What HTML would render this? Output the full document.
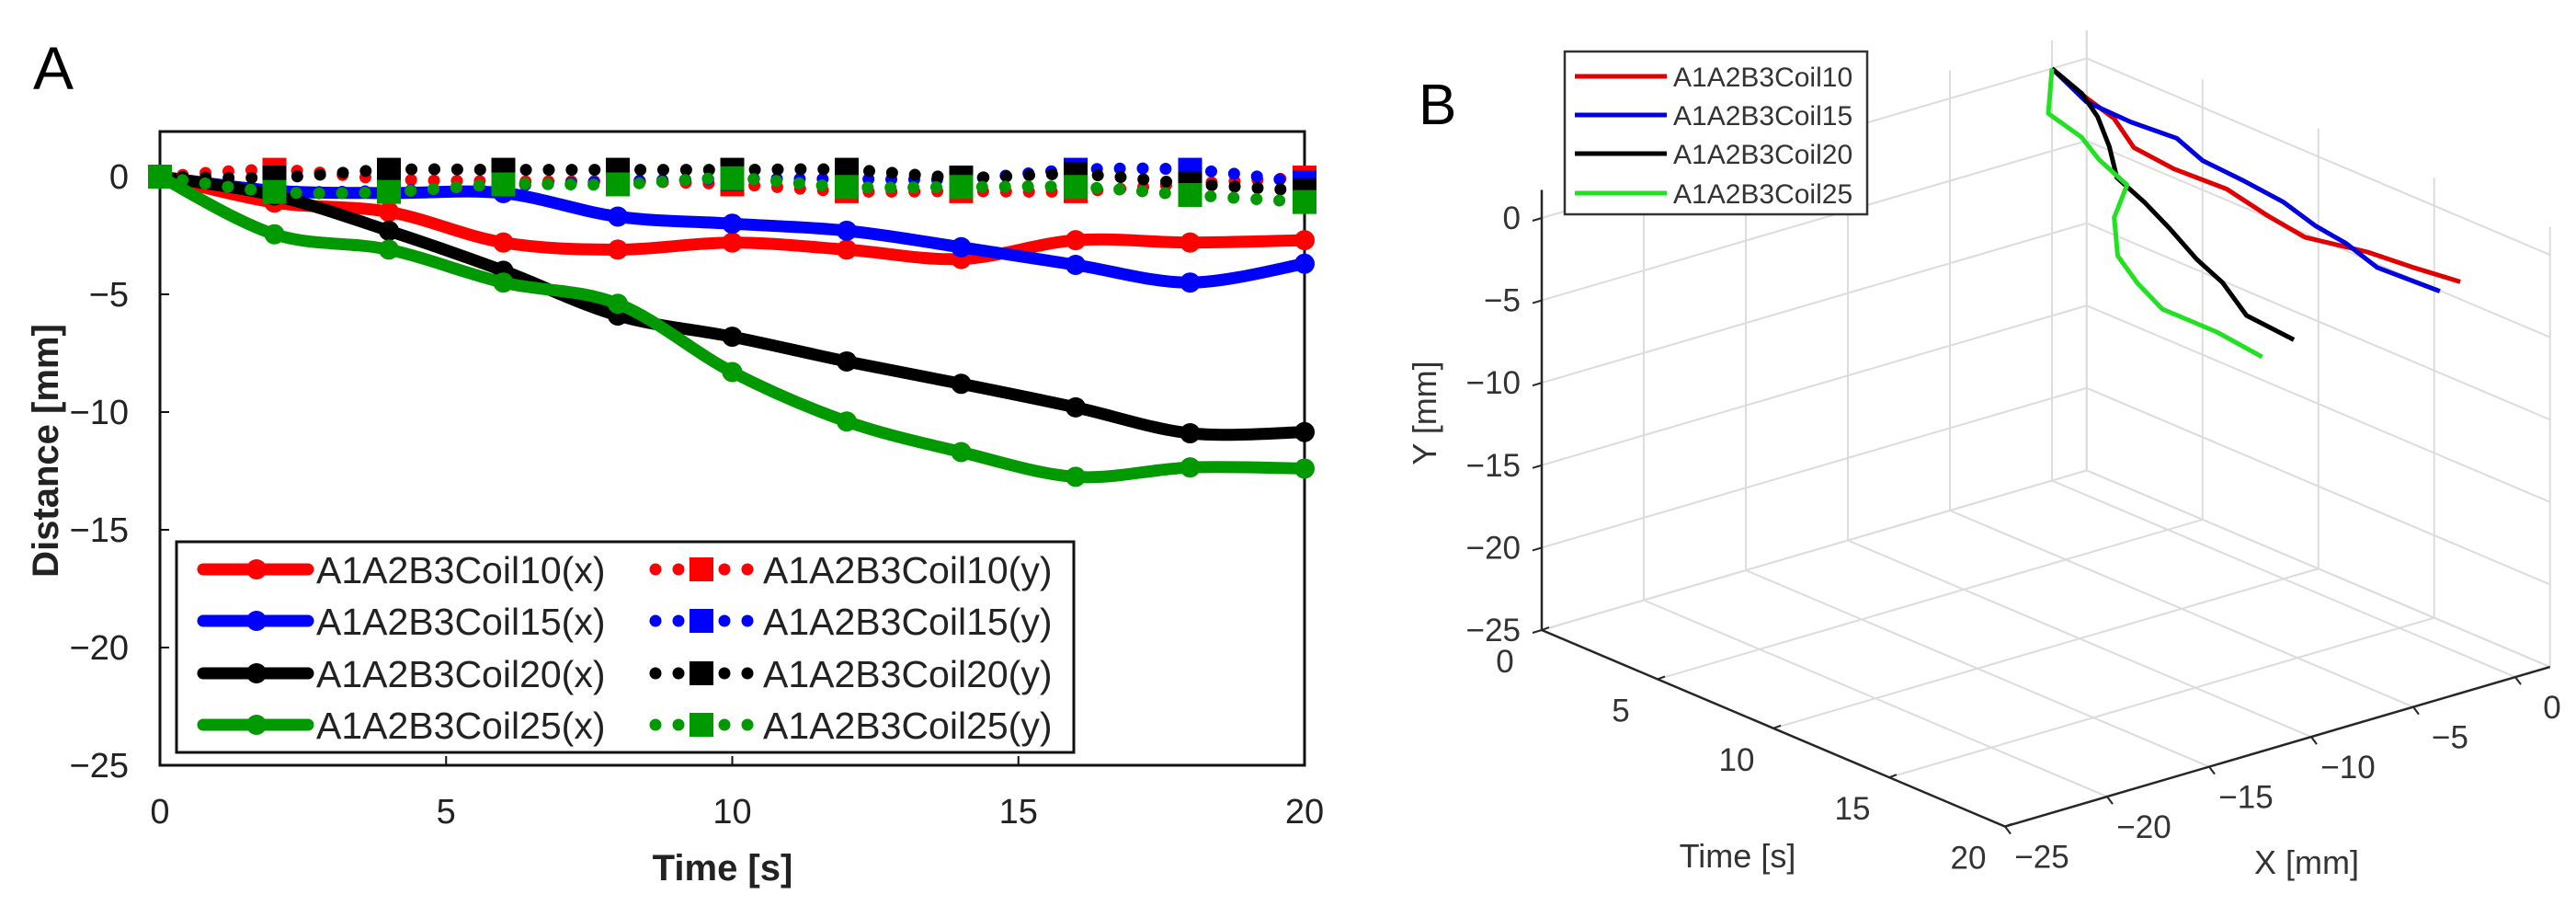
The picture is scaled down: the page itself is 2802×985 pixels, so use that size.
<!DOCTYPE html>
<html><head><meta charset="utf-8"><style>
html,body{margin:0;padding:0;background:#fff;}
svg{display:block;font-family:"Liberation Sans",Arial,sans-serif;}
</style></head><body>
<svg id="fig" width="2802" height="985" viewBox="0 0 2802 985" xmlns="http://www.w3.org/2000/svg">
<rect x="0" y="0" width="2802" height="985" fill="#fff"/>
<g id="panelA"></g>
<g id="panelB"></g>
</svg>
<script>
// ---------- data ----------
const times = [0,2,4,6,8,10,12,14,16,18,20];
const seriesNames = ["A1A2B3Coil10","A1A2B3Coil15","A1A2B3Coil20","A1A2B3Coil25"];
const coil10X = [0,-1.1,-1.5,-2.8,-3.1,-2.8,-3.1,-3.5,-2.7,-2.8,-2.7];
const coil15X = [0,-0.6,-0.7,-0.7,-1.7,-2.0,-2.3,-3.0,-3.75,-4.5,-3.7];
const coil20X = [0,-0.8,-2.3,-4.0,-5.9,-6.8,-7.85,-8.8,-9.8,-10.9,-10.85];
const coil25X = [0,-2.45,-3.1,-4.5,-5.4,-8.3,-10.4,-11.7,-12.75,-12.35,-12.4];
const coil10Y = [0,0.29,-0.1,-0.2,-0.2,-0.33,-0.62,-0.62,-0.62,-0.3,-0.04];
const coil15Y = [0,-0.6,-0.6,-0.4,-0.2,-0.1,-0.1,-0.1,0.29,0.29,-0.25];
const coil20Y = [0,-0.04,0.29,0.29,0.29,0.29,0.29,-0.04,0.1,-0.3,-0.6];
const coil25Y = [0,-0.65,-0.65,-0.33,-0.33,-0.07,-0.44,-0.44,-0.44,-0.78,-1.08];
const xTicksA = [0,5,10,15,20];
const yTicksA = [0,-5,-10,-15,-20,-25];
const tTicksB = [0,5,10,15,20];
const xTicksB = [0,-5,-10,-15,-20,-25];
const yTicksB = [0,-5,-10,-15,-20,-25];

const NS="http://www.w3.org/2000/svg";
function mk(parent,tag,attrs,text){const e=document.createElementNS(NS,tag);for(const k in attrs)e.setAttribute(k,attrs[k]);if(text!==undefined)e.textContent=text;parent.appendChild(e);return e;}
function smooth(pts){
  let d="M"+pts[0][0]+","+pts[0][1];
  for(let i=0;i<pts.length-1;i++){
    const p0=pts[Math.max(i-1,0)],p1=pts[i],p2=pts[i+1],p3=pts[Math.min(i+2,pts.length-1)];
    const c1=[p1[0]+(p2[0]-p0[0])/6,p1[1]+(p2[1]-p0[1])/6];
    const c2=[p2[0]-(p3[0]-p1[0])/6,p2[1]-(p3[1]-p1[1])/6];
    d+=" C"+c1[0].toFixed(1)+","+c1[1].toFixed(1)+" "+c2[0].toFixed(1)+","+c2[1].toFixed(1)+" "+p2[0].toFixed(1)+","+p2[1].toFixed(1);
  }
  return d;
}
const txtCol="#222";

// ---------- Panel A ----------
(function(){
  const g=document.getElementById("panelA");
  const L=174,R=1419,T=143,B=832;
  const xS=t=>L+(t-0)*(R-L)/20;
  const yS=v=>192+(0-v)*25.6;
  const colors=["#ff0000","#0000ff","#000000","#009a00"];
  const xs=[coil10X,coil15X,coil20X,coil25X];
  const ys=[coil10Y,coil15Y,coil20Y,coil25Y];
  let e=mk(g,"text",{x:36,y:97,"font-size":66,fill:"#000"},"A");
  
  
  e=mk(g,"rect",{x:L,y:T,width:R-L,height:B-T,fill:"none",stroke:"#111","stroke-width":3});
  
  
  xTicksA.forEach(t=>{
    const x=xS(t);
    mk(g,"line",{x1:x,y1:B,x2:x,y2:B-10,stroke:"#111","stroke-width":2});
    e=mk(g,"text",{x:x,y:895,"font-size":38,"text-anchor":"middle",fill:txtCol},String(t));
    
    
  });
  yTicksA.forEach(v=>{
    const y=yS(v);
    mk(g,"line",{x1:L,y1:y,x2:L+10,y2:y,stroke:"#111","stroke-width":2});
    e=mk(g,"text",{x:140,y:y+13,"font-size":38,"text-anchor":"end",fill:txtCol},v<0?"\u2212"+(-v):String(v));
    
    
  });
  e=mk(g,"text",{x:786,y:957,"font-size":40,"font-weight":"bold","text-anchor":"middle",fill:txtCol},"Time [s]");
  
  
  e=mk(g,"text",{x:0,y:0,"font-size":40,"font-weight":"bold","text-anchor":"middle",fill:txtCol,transform:"translate(63,490) rotate(-90)"},"Distance [mm]");
  
  
  // solid x series
  xs.forEach((arr,i)=>{
    const pts=times.map((t,j)=>[xS(t),yS(arr[j])]);
    e=mk(g,"path",{d:smooth(pts),fill:"none",stroke:colors[i],"stroke-width":13,"stroke-linejoin":"round","stroke-linecap":"round"});
    
    
    pts.forEach(p=>{
      e=mk(g,"circle",{cx:p[0],cy:p[1],r:11,fill:colors[i]});
      
      
    });
  });
  // dotted y series
  ys.forEach((arr,i)=>{
    const pts=times.map((t,j)=>[xS(t),yS(arr[j])]);
    e=mk(g,"path",{d:smooth(pts),fill:"none",stroke:colors[i],"stroke-width":13,"stroke-linecap":"round","stroke-dasharray":"0 24.9"});
    
    
    pts.forEach(p=>{
      e=mk(g,"rect",{x:p[0]-13,y:p[1]-13,width:26,height:26,fill:colors[i]});
      
      
    });
  });
  // legend
  const lg=mk(g,"g",{});
  
  
  mk(lg,"rect",{x:192,y:589,width:976,height:229,fill:"#fff",stroke:"#111","stroke-width":3});
  const rows=[619,675,732,788];
  seriesNames.forEach((n,i)=>{
    const y=rows[i];
    const en=mk(lg,"g",{});
    
    
    mk(en,"line",{x1:221,y1:y,x2:335,y2:y,stroke:colors[i],"stroke-width":13,"stroke-linecap":"round"});
    mk(en,"circle",{cx:279,cy:y,r:11,fill:colors[i]});
    mk(en,"text",{x:344,y:y+15,"font-size":41,fill:txtCol},n+"(x)");
    const en2=mk(lg,"g",{});
    
    
    mk(en2,"line",{x1:713,y1:y,x2:815,y2:y,stroke:colors[i],"stroke-width":13,"stroke-linecap":"round","stroke-dasharray":"0 25"});
    mk(en2,"rect",{x:750,y:y-13,width:26,height:26,fill:colors[i]});
    mk(en2,"text",{x:830,y:y+15,"font-size":41,fill:txtCol},n+"(y)");
  });
})();

// ---------- Panel B ----------
(function(){
  const g=document.getElementById("panelB");
  const A0=[1677,685];
  const tv=[25.2,10.68], xv=[22.2,-6.5], yv=[0,-17.92];
  const XMAX=1.7, YMAX=1.7;
  const P=(t,X,Y)=>[A0[0]+tv[0]*t+xv[0]*(X+25)+yv[0]*(Y+25), A0[1]+tv[1]*t+xv[1]*(X+25)+yv[1]*(Y+25)];
  const colors=["#e00000","#0000e0","#000000","#22e022"];
  const xs=[coil10X,coil15X,coil20X,coil25X];
  const ys=[coil10Y,coil15Y,coil20Y,coil25Y];
  const grid="#dcdcdc";
  function ln(p,q,c,w,name){const e=mk(g,"line",{x1:p[0],y1:p[1],x2:q[0],y2:q[1],stroke:c,"stroke-width":w});return e;}
  // back wall t=0
  const xg=[-25,-20,-15,-10,-5,0,XMAX];
  xg.forEach(X=>ln(P(0,X,-25),P(0,X,YMAX),grid,2,'grid-line'));
  yTicksB.forEach(Y=>ln(P(0,-25,Y),P(0,XMAX,Y),grid,2,'grid-line'));
  // side wall X=XMAX
  tTicksB.forEach(t=>ln(P(t,XMAX,-25),P(t,XMAX,YMAX),grid,2,'grid-line'));
  yTicksB.forEach(Y=>ln(P(0,XMAX,Y),P(20,XMAX,Y),grid,2,'grid-line'));
  // floor
  xg.forEach(X=>ln(P(0,X,-25),P(20,X,-25),grid,2,'grid-line'));
  tTicksB.forEach(t=>ln(P(t,-25,-25),P(t,XMAX,-25),grid,2,'grid-line'));
  // axes
  const ax="#262626";
  ln(P(0,-25,-25),P(0,-25,YMAX),ax,2.5,'y-axis-b');
  ln(P(0,-25,-25),P(20,-25,-25),ax,2.5,'time-axis-b');
  ln(P(20,-25,-25),P(20,XMAX,-25),ax,2.5,'x-axis-b');
  let e;
  yTicksB.forEach(Y=>{
    const p=P(0,-25,Y);
    ln(p,[p[0]-10,p[1]+3],ax,2,'tick');
    e=mk(g,"text",{x:1654,y:p[1]+12,"font-size":35,"text-anchor":"end",fill:"#333"},Y<0?"\u2212"+(-Y):String(Y));
    
    
  });
  tTicksB.forEach(t=>{
    const p=P(t,-25,-25);
    ln(p,[p[0]+8,p[1]-3],ax,2,'tick');
    e=mk(g,"text",{x:p[0]-40,y:p[1]+46,"font-size":35,"text-anchor":"middle",fill:"#333"},String(t));
    
    
  });
  xTicksB.forEach(X=>{
    const p=P(20,X,-25);
    ln(p,[p[0]+6,p[1]+8],ax,2,'tick');
    e=mk(g,"text",{x:p[0]+40,y:p[1]+45,"font-size":35,"text-anchor":"middle",fill:"#333"},X<0?"\u2212"+(-X):String(X));
    
    
  });
  e=mk(g,"text",{x:1890,y:943,"font-size":36,"text-anchor":"middle",fill:"#333"},"Time [s]");
  
  
  e=mk(g,"text",{x:2509,y:950,"font-size":36,"text-anchor":"middle",fill:"#333"},"X [mm]");
  
  
  e=mk(g,"text",{x:0,y:0,"font-size":36,"text-anchor":"middle",fill:"#333",transform:"translate(1562,449) rotate(-90)"},"Y [mm]");
  
  
  e=mk(g,"text",{x:1543,y:135,"font-size":62,fill:"#000"},"B");
  
  
  // data lines
  xs.forEach((arr,i)=>{
    const pts=times.map((t,j)=>P(t,arr[j],ys[i][j]).map(v=>v.toFixed(1)).join(","));
    e=mk(g,"polyline",{points:pts.join(" "),fill:"none",stroke:colors[i],"stroke-width":5,"stroke-linejoin":"round"});
    
    
  });
  // legend
  const lg=mk(g,"g",{});
  
  
  mk(lg,"rect",{x:1702,y:56,width:329,height:177,fill:"#fff",stroke:"#333","stroke-width":2.5});
  const rows=[83,125,167,210];
  seriesNames.forEach((n,i)=>{
    const en=mk(lg,"g",{});
    
    
    mk(en,"line",{x1:1713,y1:rows[i],x2:1813,y2:rows[i],stroke:colors[i],"stroke-width":5});
    mk(en,"text",{x:1820,y:rows[i]+11,"font-size":30,fill:"#333"},n);
  });
})();
</script>
</body></html>
